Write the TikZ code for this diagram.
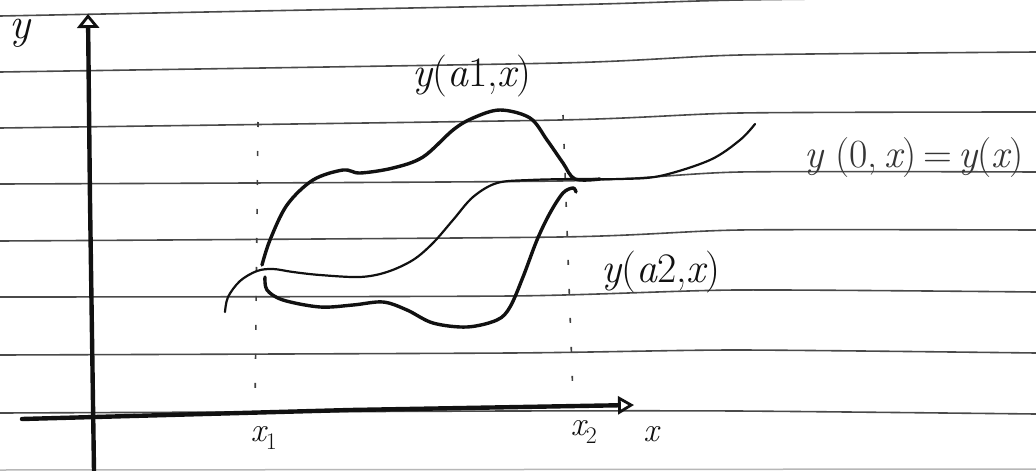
\documentclass[tikz,border=0pt]{standalone}
\usetikzlibrary{arrows.meta}
\definecolor{ink}{HTML}{111111}
\definecolor{rule}{HTML}{4A4A4A}
\newcommand{\mv}[1]{{\itshape #1}}
\tikzset{
  ruled/.style={rule, line width=1.6pt},
  axis/.style={ink, line width=4.4pt, line cap=round},
  curvethick/.style={ink, line width=3.4pt, line cap=round, line join=round},
  curvethin/.style={ink, line width=2.2pt, line cap=round},
  guide/.style={ink!80, line width=1.6pt, dash pattern=on 5pt off 24pt},
  hand/.style={ink, inner sep=0pt},
}
\begin{document}
\begin{tikzpicture}[x=1pt,y=-1pt]
\useasboundingbox[fill=white] (0,0) rectangle (1036,471);
% ruled paper lines
\begin{scope}
\clip (0,0) rectangle (1036,471);
\draw[ruled] plot[smooth, tension=0.4] coordinates {(0,16) (560,5) (740,0) (1036,-3)};
\draw[ruled] plot[smooth, tension=0.4] coordinates {(0,72) (560,63) (740,55) (1036,52)};
\draw[ruled] plot[smooth, tension=0.4] coordinates {(0,128) (560,120) (740,113) (1036,112)};
\draw[ruled] plot[smooth, tension=0.4] coordinates {(0,184) (560,181) (740,172) (1036,172)};
\draw[ruled] plot[smooth, tension=0.4] coordinates {(0,241) (560,237) (740,230) (1036,230)};
\draw[ruled] plot[smooth, tension=0.4] coordinates {(0,297) (510,296) (736,290) (1036,292)};
\draw[ruled] plot[smooth, tension=0.4] coordinates {(0,355) (510,353) (736,350) (1036,353)};
\draw[ruled] plot[smooth, tension=0.4] coordinates {(0,413) (510,411) (736,411) (1036,414)};
\draw[rule!40, line width=1.5pt] (0,470) -- (1036,469);
\end{scope}
% axes
\coordinate (ybot) at (94,471);
\coordinate (ytop) at (88,14);
\coordinate (xleft) at (22,419);
\coordinate (xright) at (634,405);
\draw[axis, -{Triangle[open, length=14pt, width=22pt, line width=2.8pt]}] (ybot) -- (90,200) -- (ytop);
\draw[axis, -{Triangle[open, length=16pt, width=18pt, line width=2.8pt]}] (xleft) -- (350,410) -- (xright);
\node[hand, font=\fontsize{44}{44}\selectfont] (ylab) at (20,33) {\mv{y}};
\node[hand, font=\fontsize{34}{34}\selectfont] (xlab) at (651,434) {\mv{x}};
% guide lines
\coordinate (g1t) at (258,122);
\coordinate (g1b) at (255,410);
\coordinate (g2t) at (563,115);
\coordinate (g2b) at (573,398);
\draw[guide] (g1t) -- (g1b);
\draw[guide] (g2t) -- (g2b);
\node[hand, font=\fontsize{34}{34}\selectfont] (x1) at (264,438) {\mv{x}\textsubscript{1}};
\node[hand, font=\fontsize{34}{34}\selectfont] (x2) at (584,432) {\mv{x}\textsubscript{2}};
% curves
\draw[curvethin] plot[smooth, tension=0.55] coordinates {(225,312) (228,297) (240,281) (257,271) (273,269) (293,272) (320,275) (360,277) (387,272) (413,260) (433,243) (453,220) (473,197) (497,183) (530,180) (575,179) (620,179) (660,176) (710,160) (740,140) (755,124)};
\draw[curvethick] plot[smooth, tension=0.55] coordinates {(262,265) (270,240) (287,205) (313,180) (343,170) (360,173) (393,168) (423,157) (453,130) (473,118) (500,110) (530,118) (547,140) (563,163) (575,179) (600,179)};
\draw[curvethick] plot[smooth, tension=0.55] coordinates {(265,277) (267,290) (283,300) (320,307) (353,305) (383,302) (407,310) (433,323) (467,327) (497,320) (510,307) (523,277) (537,240) (550,213) (563,193) (573,188) (576,192)};
% labels
\node[hand, font=\fontsize{42}{42}\selectfont] (la1) at (472,76) {\mv{y}(\mv{a}1,\mv{x})};
\node[hand, font=\fontsize{42}{42}\selectfont] (la2) at (661,272) {\mv{y}(\mv{a}2,\mv{x})};
\node[hand, font=\fontsize{40}{40}\selectfont, ink!85] (ly0) at (914,158) {\mv{y} (0,\,\mv{x})\,=\,\mv{y}(\mv{x})};
\end{tikzpicture}
\end{document}
